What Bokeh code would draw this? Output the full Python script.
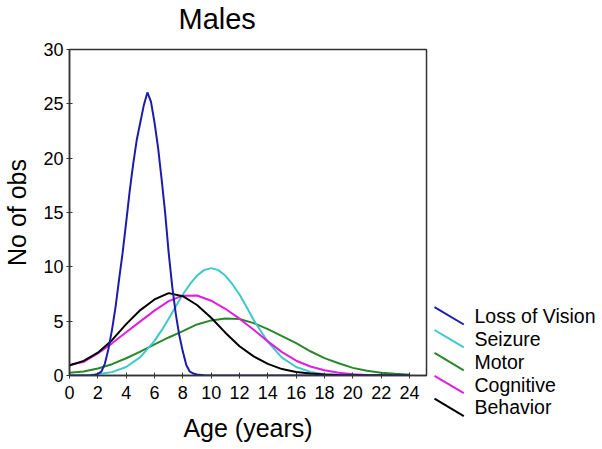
from bokeh.plotting import figure
from bokeh.models import Range1d, FixedTicker, ColumnDataSource, Title
from bokeh.layouts import row
from bokeh.core.properties import value
from bokeh.embed import file_html
from bokeh.resources import INLINE

title_text = "Males"
x_label = "Age (years)"
y_label = "No of obs"
x_ticks = [0, 2, 4, 6, 8, 10, 12, 14, 16, 18, 20, 22, 24]
y_ticks = [0, 5, 10, 15, 20, 25, 30]

series_names = ["Loss of Vision", "Seizure", "Motor", "Cognitive", "Behavior"]

# Ages at which the broad curves were read (years)
age = list(range(25))

motor = [0.25, 0.36, 0.65, 1.04, 1.59, 2.2, 2.86, 3.5, 4.08, 4.7, 5.07, 5.25,
         5.2, 4.82, 4.27, 3.63, 2.97, 2.23, 1.6, 1.13, 0.7, 0.43, 0.26, 0.15, 0.08]
cognitive = [1.0, 1.25, 2.04, 2.96, 3.98, 4.98, 5.97, 6.85, 7.35, 7.36, 6.88, 6.14,
             5.23, 4.21, 3.14, 2.15, 1.36, 0.83, 0.48, 0.25, 0.12, 0.05, 0.02, 0.0, 0.0]
behavior = [0.92, 1.35, 2.1, 3.25, 4.73, 6.02, 7.0, 7.58, 7.3, 6.49, 5.32, 3.94,
            2.69, 1.76, 1.07, 0.59, 0.33, 0.18, 0.09, 0.04, 0.02, 0.0, 0.0, 0.0, 0.0]

# Seizure read on a finer grid around its peak
seizure_age = [0, 1, 2, 3, 4, 5, 6, 6.5, 7, 7.5, 8, 8.5, 9, 9.5, 10, 10.5, 11,
               11.5, 12, 12.5, 13, 13.5, 14, 15, 16, 17, 18, 19, 20, 21, 22, 23, 24]
seizure = [0.0, 0.01, 0.11, 0.31, 0.78, 1.69, 3.19, 4.15, 5.23, 6.35, 7.45, 8.4,
           9.2, 9.7, 9.88, 9.7, 9.2, 8.4, 7.45, 6.3, 5.1, 4.1, 3.1, 1.65, 0.78,
           0.33, 0.12, 0.04, 0.01, 0.0, 0.0, 0.0, 0.0]

# Loss of Vision is narrow, so it was read on a finer age grid
vision_age = [0, 0.5, 1.0, 1.5, 1.75, 2.0, 2.25, 2.5, 2.75, 3.0, 3.25, 3.5, 3.75,
              4.0, 4.25, 4.5, 4.75, 5.0, 5.25, 5.5, 5.75, 6.0, 6.25, 6.5, 6.75,
              7.0, 7.25, 7.5, 7.75, 8.0, 8.25, 8.5, 8.75, 9.0, 9.5, 10.0, 12.0, 24.0]
vision = [0.0, 0.0, 0.0, 0.02, 0.05, 0.15, 0.35, 1.1, 2.45, 4.2, 6.3, 8.85, 11.3,
          14.1, 17.0, 19.5, 21.7, 23.3, 24.9, 26.05, 25.2, 23.3, 21.0, 18.1, 15.0,
          11.3, 8.2, 5.7, 3.7, 2.2, 0.95, 0.35, 0.18, 0.1, 0.03, 0.01, 0.0, 0.0]

colors = {"Loss of Vision": "#1c1ca8", "Seizure": "#3ec8c8", "Motor": "#2a872a",
          "Cognitive": "#e01ee0", "Behavior": "#000000"}

FONT = "Liberation Sans"
H = 446

p = figure(width=430, height=H, output_backend="svg", toolbar_location=None,
           x_range=Range1d(0, 25.2), y_range=Range1d(0, 30),
           min_border_left=68, min_border_right=4, min_border_top=48,
           min_border_bottom=H - 375, title=title_text)
p.frame_align = False

p.background_fill_color = "white"
p.border_fill_color = "white"
p.outline_line_color = "#333333"
p.outline_line_width = 1.5
p.xgrid.visible = False
p.ygrid.visible = False

p.title.text_font = FONT
p.title.text_font_size = "29px"
p.title.text_font_style = "normal"
p.title.text_color = "black"
p.title.align = "left"
p.title.offset = 109
p.title.vertical_align = "bottom"
p.title.standoff = 0

# thin blank spacer between the title and the frame
p.add_layout(Title(text=" ", text_font_size="1px", standoff=12), "above")

for ax in (p.xaxis[0], p.yaxis[0]):
    ax.axis_line_color = "#333333"
    ax.axis_line_width = 1.5
    ax.major_tick_line_color = "#333333"
    ax.major_tick_in = 3
    ax.major_tick_out = 3
    ax.minor_tick_line_color = None
    ax.major_label_text_font = FONT
    ax.major_label_text_font_size = "18px"
    ax.major_label_text_color = "black"
    ax.axis_label_text_font = FONT
    ax.axis_label_text_font_size = "25px"
    ax.axis_label_text_font_style = "normal"
    ax.axis_label_text_color = "black"

p.xaxis[0].ticker = FixedTicker(ticks=x_ticks)
p.yaxis[0].ticker = FixedTicker(ticks=y_ticks)
p.xaxis[0].axis_label = x_label
p.yaxis[0].axis_label = y_label
p.xaxis[0].major_label_standoff = 7
p.yaxis[0].major_label_standoff = 3
p.xaxis[0].axis_label_standoff = 12
p.yaxis[0].axis_label_standoff = 9

p.line(age, motor, line_color=colors["Motor"], line_width=2)
p.line(seizure_age, seizure, line_color=colors["Seizure"], line_width=2)
p.line(age, cognitive, line_color=colors["Cognitive"], line_width=2)
p.line(age, behavior, line_color=colors["Behavior"], line_width=2)
p.line(vision_age, vision, line_color=colors["Loss of Vision"], line_width=2)

# Legend panel (keys drawn as short diagonal strokes, as in the original)
LW = 168
leg = figure(width=LW, height=H, output_backend="svg", toolbar_location=None,
             x_range=Range1d(0, LW), y_range=Range1d(H, 0),
             x_axis_type=None, y_axis_type=None,
             min_border=0, min_border_left=0, min_border_right=0,
             min_border_top=0, min_border_bottom=0)
leg.frame_align = False
leg.outline_line_color = None
leg.xgrid.visible = False
leg.ygrid.visible = False
leg.background_fill_color = "white"
leg.border_fill_color = "white"

first_row, row_step = 315.3, 22.9
rows = [first_row + i * row_step for i in range(len(series_names))]
key_src = ColumnDataSource(dict(
    x0=[4] * len(series_names), x1=[33.3] * len(series_names),
    y0=[r - 8.7 for r in rows], y1=[r + 8.7 for r in rows],
    color=[colors[n] for n in series_names],
    tx=[44] * len(series_names), ty=rows, label=series_names))
leg.segment("x0", "y0", "x1", "y1", source=key_src, line_color="color", line_width=2)
leg.text("tx", "ty", text="label", source=key_src, text_baseline="middle",
         text_align="left", text_font=value(FONT), text_font_size="19.5px",
         text_color="black")

layout = row(p, leg)
open("out.html", "w").write(file_html(layout, INLINE))
